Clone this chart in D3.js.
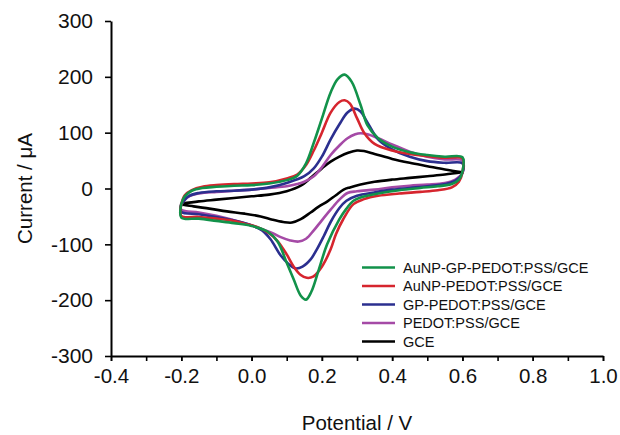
<!DOCTYPE html>
<html>
<head>
<meta charset="utf-8">
<script src="https://cdn.jsdelivr.net/npm/d3@7"></script>
<style>
  html, body { margin: 0; padding: 0; background: #fff; }
  svg { display: block; font-family: "Liberation Sans", Arial, sans-serif; }
</style>
</head>
<body>
<svg id="chart" width="620" height="435"></svg>
<script>
// ---- Data (Potential / V, Current / µA) ----
const seriesNames = ["AuNP-GP-PEDOT:PSS/GCE", "AuNP-PEDOT:PSS/GCE", "GP-PEDOT:PSS/GCE", "PEDOT:PSS/GCE", "GCE"];
const seriesColors = ["#12924a", "#d6252e", "#2b2f8f", "#a54aa6", "#000000"];

const greenForward = [[-0.2,-28],[-0.19,-14],[-0.17,-4],[-0.14,1],[-0.1,3],[-0.05,5],[0,6],[0.05,9],[0.1,15],[0.13,23],[0.155,45],[0.177,82],[0.2,125],[0.225,172],[0.245,196],[0.265,204],[0.285,191],[0.31,150],[0.33,113],[0.36,90],[0.4,75],[0.45,65],[0.5,60],[0.55,57],[0.6,56]];
const greenReverse = [[0.6,30],[0.59,16],[0.57,8],[0.53,4],[0.48,1],[0.42,-3],[0.36,-9],[0.31,-16],[0.29,-22],[0.27,-36],[0.25,-55],[0.215,-100],[0.19,-148],[0.17,-185],[0.155,-199],[0.14,-192],[0.12,-163],[0.1,-133],[0.074,-95],[0.045,-77],[0,-67],[-0.05,-62],[-0.1,-58],[-0.15,-54],[-0.2,-52]];

const redForward = [[-0.2,-28],[-0.19,-12],[-0.17,-3],[-0.14,3],[-0.1,6],[-0.05,8],[0,9],[0.05,11],[0.1,18],[0.13,25],[0.155,42],[0.177,68],[0.2,100],[0.225,136],[0.25,155],[0.265,158],[0.28,152],[0.3,126],[0.32,100],[0.35,80],[0.4,68],[0.45,62],[0.5,58],[0.55,55],[0.6,54]];
const redReverse = [[0.6,29],[0.59,12],[0.57,2],[0.53,-3],[0.48,-6],[0.42,-9],[0.36,-13],[0.32,-19],[0.29,-28],[0.26,-56],[0.24,-82],[0.225,-109],[0.2,-140],[0.175,-158],[0.157,-160],[0.14,-155],[0.12,-140],[0.1,-118],[0.075,-95],[0.05,-80],[0.02,-70],[-0.02,-63],[-0.06,-57],[-0.1,-54],[-0.15,-51],[-0.2,-49]];

const blueForward = [[-0.2,-28],[-0.18,-14],[-0.15,-8],[-0.1,-5],[-0.05,-4],[0,-2],[0.05,2],[0.1,10],[0.15,22],[0.177,36],[0.2,57],[0.225,88],[0.25,115],[0.273,136],[0.293,143],[0.31,138],[0.33,118],[0.36,88],[0.4,70],[0.45,57],[0.5,49],[0.55,46],[0.6,45]];
const blueReverse = [[0.6,28],[0.58,14],[0.55,8],[0.5,4],[0.45,1],[0.4,-2],[0.35,-7],[0.3,-13],[0.27,-22],[0.25,-35],[0.225,-60],[0.205,-86],[0.185,-110],[0.168,-127],[0.145,-140],[0.125,-143],[0.105,-135],[0.083,-120],[0.054,-91],[0.03,-75],[0,-66],[-0.06,-56],[-0.1,-51],[-0.15,-46],[-0.2,-42]];

const purpleForward = [[-0.2,-28],[-0.18,-15],[-0.15,-9],[-0.1,-6],[-0.05,-4],[0,-2],[0.05,1],[0.1,4],[0.13,8],[0.15,12],[0.177,22],[0.2,38],[0.225,60],[0.25,77],[0.273,90],[0.295,97],[0.31,99],[0.33,97],[0.36,90],[0.4,79],[0.45,66],[0.5,57],[0.55,52],[0.6,50]];
const purpleReverse = [[0.6,28],[0.58,16],[0.55,10],[0.5,7],[0.45,5],[0.4,2],[0.35,-2],[0.3,-5],[0.273,-8],[0.25,-20],[0.225,-38],[0.2,-57],[0.177,-75],[0.155,-90],[0.134,-95],[0.11,-93],[0.083,-87],[0.06,-80],[0.034,-74],[0,-66],[-0.06,-55],[-0.1,-49],[-0.15,-43],[-0.2,-38]];

const blackForward = [[-0.2,-27],[-0.15,-23],[-0.1,-20],[-0.05,-17],[0,-14],[0.05,-11],[0.1,-5],[0.14,5],[0.17,20],[0.2,36],[0.225,48],[0.25,57],[0.275,64],[0.3,68],[0.32,67],[0.35,62],[0.4,53],[0.45,46],[0.5,40],[0.55,34],[0.6,29]];
const blackReverse = [[0.6,29],[0.55,25],[0.5,22],[0.45,19],[0.4,16],[0.35,12],[0.31,7],[0.28,2],[0.262,-2],[0.24,-12],[0.216,-23],[0.19,-33],[0.168,-43],[0.14,-55],[0.115,-61],[0.09,-60],[0.06,-56],[0.026,-50],[-0.02,-45],[-0.07,-41],[-0.12,-36],[-0.165,-32],[-0.2,-28]];

const xTickValues = [-0.4,-0.2,0.0,0.2,0.4,0.6,0.8,1.0];
const xMinorTickValues = [-0.4,-0.3,-0.2,-0.1,0.0,0.1,0.2,0.3,0.4,0.5,0.6,0.7,0.8,0.9,1.0];
const yTickValues = [-300,-200,-100,0,100,200,300];
const xTitle = "Potential / V";
const yTitle = "Current / μA";

// ---- Layout ----
const svg = d3.select("#chart");
const plotLeft = 111, plotRight = 603, plotTop = 21, plotBottom = 356;

const x = d3.scaleLinear().domain([-0.4, 1.0]).range([plotLeft, plotRight]);
const y = d3.scaleLinear().domain([-300, 300]).range([plotBottom, plotTop]);

const hyphenFormat = spec => { const f = d3.format(spec); return v => f(v).replace("\u2212", "-"); };

const loops = [
  [greenForward, greenReverse],
  [redForward, redReverse],
  [blueForward, blueReverse],
  [purpleForward, purpleReverse],
  [blackForward, blackReverse]
];

const line = d3.line()
  .x(d => x(d[0]))
  .y(d => y(d[1]))
  .curve(d3.curveCatmullRom.alpha(0.5));

const drawOrder = [4, 3, 2, 1, 0];
drawOrder.forEach(i => {
  const [fwd, rev] = loops[i];
  const pts = fwd.concat(rev).concat([fwd[0]]);
  svg.append("path")
    .attr("d", line(pts))
    .attr("fill", "none")
    .attr("stroke", seriesColors[i])
    .attr("stroke-width", 2.6)
    .attr("stroke-linejoin", "round");
});

// ---- Axes ----
const xMinor = svg.append("g")
  .attr("transform", `translate(0,${plotBottom})`)
  .call(d3.axisBottom(x).tickValues(xMinorTickValues).tickSize(5).tickSizeOuter(0).tickFormat(""));
xMinor.select(".domain").attr("stroke-width", 2);
xMinor.selectAll(".tick line").attr("stroke-width", 1.6);

const xAxis = svg.append("g")
  .attr("transform", `translate(0,${plotBottom})`)
  .call(d3.axisBottom(x).tickValues(xTickValues).tickSize(5).tickPadding(7).tickSizeOuter(0).tickFormat(hyphenFormat(".1f")));
xAxis.select(".domain").remove();
xAxis.selectAll(".tick line").attr("stroke-width", 1.6);
xAxis.selectAll("text")
  .attr("font-size", "20.5px")
  .attr("font-family", "'Liberation Sans', Arial, sans-serif")
  .attr("fill", "#111");

const yAxis = svg.append("g")
  .attr("transform", `translate(${plotLeft},0)`)
  .call(d3.axisLeft(y).tickValues(yTickValues).tickSize(6).tickPadding(12).tickSizeOuter(0).tickFormat(hyphenFormat("d")));
yAxis.select(".domain").attr("stroke-width", 2);
yAxis.selectAll(".tick line").attr("stroke-width", 1.6);
yAxis.selectAll("text")
  .attr("font-size", "21px")
  .attr("font-family", "'Liberation Sans', Arial, sans-serif")
  .attr("fill", "#111");

// ---- Titles ----
svg.append("text")
  .attr("x", (plotLeft + plotRight) / 2)
  .attr("y", 430)
  .attr("text-anchor", "middle")
  .attr("font-size", "20.5px")
  .attr("fill", "#111")
  .text(xTitle);

svg.append("text")
  .attr("transform", `translate(32,${(plotTop + plotBottom) / 2}) rotate(-90)`)
  .attr("text-anchor", "middle")
  .attr("font-size", "20.5px")
  .attr("fill", "#111")
  .text(yTitle);

// ---- Legend ----
const legend = svg.append("g");
seriesNames.forEach((name, i) => {
  const cy = 267.5 + i * 18.5;
  legend.append("line")
    .attr("x1", 362).attr("x2", 395)
    .attr("y1", cy).attr("y2", cy)
    .attr("stroke", seriesColors[i])
    .attr("stroke-width", 2.6);
  legend.append("text")
    .attr("x", 403)
    .attr("y", cy + 5)
    .attr("font-size", "14.5px")
    .attr("fill", "#111")
    .text(name);
});
</script>
</body>
</html>
